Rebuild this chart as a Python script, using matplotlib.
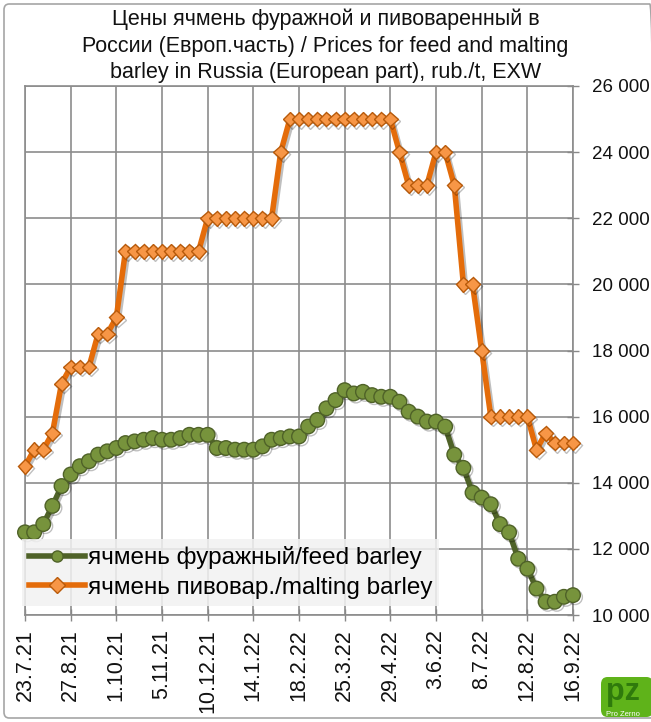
import matplotlib
matplotlib.use("Agg")
import matplotlib.pyplot as plt
import matplotlib.patheffects as pe
from matplotlib.patches import FancyBboxPatch

plt.rcParams["font.family"] = ["Liberation Sans", "DejaVu Sans"]

# Wochenwerte 23.7.21 - 16.9.22 (61 Punkte)
tick_labels = ["23.7.21", "27.8.21", "1.10.21", "5.11.21", "10.12.21", "14.1.22",
               "18.2.22", "25.3.22", "29.4.22", "3.6.22", "8.7.22", "12.8.22", "16.9.22"]

feed = [12500, 12500, 12750, 13300, 13900, 14250, 14500, 14650, 14850, 14950,
        15050, 15200, 15250, 15300, 15350, 15300, 15300, 15350, 15450, 15450,
        15450, 15050, 15050, 15000, 15000, 15000, 15100, 15300, 15350, 15400,
        15400, 15700, 15900, 16250, 16500, 16800, 16700, 16750, 16650, 16600,
        16600, 16450, 16150, 16000, 15850, 15850, 15700, 14850, 14450, 13700,
        13550, 13350, 12750, 12500, 11700, 11400, 10800, 10400, 10400, 10550,
        10600]

malting = [14500, 15000, 15000, 15500, 17000, 17500, 17500, 17500, 18500, 18500,
           19000, 21000, 21000, 21000, 21000, 21000, 21000, 21000, 21000, 21000,
           22000, 22000, 22000, 22000, 22000, 22000, 22000, 22000, 24000, 25000,
           25000, 25000, 25000, 25000, 25000, 25000, 25000, 25000, 25000, 25000,
           25000, 24000, 23000, 23000, 23000, 24000, 24000, 23000, 20000, 20000,
           18000, 16000, 16000, 16000, 16000, 16000, 15000, 15500, 15200, 15200,
           15200]

y_ticks = [10000, 12000, 14000, 16000, 18000, 20000, 22000, 24000, 26000]

x = list(range(len(feed)))

fig = plt.figure(figsize=(6.51, 7.22), dpi=100)
W, H = 651, 722
ax = fig.add_axes([25 / W, 1 - 615 / H, (573 - 25) / W, (615 - 86) / H])

shadow = [pe.SimpleLineShadow(offset=(1.5, -1.5), alpha=0.25, shadow_color="k"), pe.Normal()]

ax.plot(x, feed, color="#4F6228", lw=4, marker="o", ms=10.5,
        mfc="#77933C", mec="#4F6228", mew=1.0, clip_on=False, zorder=3,
        path_effects=shadow, label="ячмень фуражный/feed barley")
ax.plot(x, malting, color="#E46C0A", lw=4, marker="D", ms=7.5,
        mfc="#F79646", mec="#B85A0A", mew=1.0, clip_on=False, zorder=4,
        path_effects=shadow, label="ячмень пивовар./malting barley")

ax.set_xlim(0, 60)
ax.set_ylim(10000, 26000)
ax.set_xticks(range(0, 61, 5))
ax.set_xticklabels(tick_labels, rotation=90, fontsize=15.5, color="#111111")
ax.set_yticks(y_ticks)
ax.set_yticklabels([f"{v:,}".replace(",", " ") for v in y_ticks], fontsize=13.5, color="#111111")
ax.yaxis.tick_right()
ax.tick_params(axis="x", direction="inout", length=9, width=1, color="#888888", pad=6)
ax.tick_params(axis="y", direction="inout", length=9, width=1, color="#888888", pad=9)
ax.grid(True, color="#8c8c8c", lw=1.2)
ax.set_axisbelow(True)
for s in ax.spines.values():
    s.set_color("#8c8c8c")
    s.set_linewidth(1.2)

leg = ax.legend(loc="lower left", bbox_to_anchor=(22 / W, 1 - 606 / H),
                bbox_transform=fig.transFigure, fontsize=17.5, frameon=True,
                handlelength=2.3, handletextpad=0.1, borderpad=0.3,
                labelspacing=0.3, borderaxespad=0, fancybox=False)
leg.get_frame().set_facecolor("#f2f2f2")
leg.get_frame().set_alpha(0.85)
leg.get_frame().set_edgecolor("none")
leg.set_zorder(10)
for h in leg.legend_handles:
    h.set_markersize(8)
    h.set_path_effects([])

fig.text(0.5, 1 - 9 / H, "Цены ячмень фуражной и пивоваренный в\n"
         "России (Европ.часть) / Prices for feed and malting\n"
         "barley in Russia (European part), rub./t, EXW",
         ha="center", va="top", fontsize=15.5, linespacing=1.32, color="#111111")

# Rahmen
fig.patches.append(FancyBboxPatch((4 / W, 4 / H), 1.0, 1 - 8 / H,
                                  boxstyle="round,pad=0,rounding_size=0.008",
                                  transform=fig.transFigure, fill=False,
                                  edgecolor="#a6a6a6", lw=1.2))

# Logo ProZerno
fig.patches.append(FancyBboxPatch((601 / W, 5 / H), 52 / W, 40 / H,
                                  boxstyle="round,pad=0,rounding_size=0.01",
                                  transform=fig.transFigure, facecolor="#5fb31a",
                                  edgecolor="none"))
fig.text(606 / W, 1 - 700 / H, "pz", fontsize=22, fontweight="bold", color="#2f7a0c",
         ha="left", va="baseline")
fig.text(606 / W, 1 - 716 / H, "Pro Zerno", fontsize=5.5, color="white",
         ha="left", va="baseline")

fig.savefig("out.png", dpi=100)
